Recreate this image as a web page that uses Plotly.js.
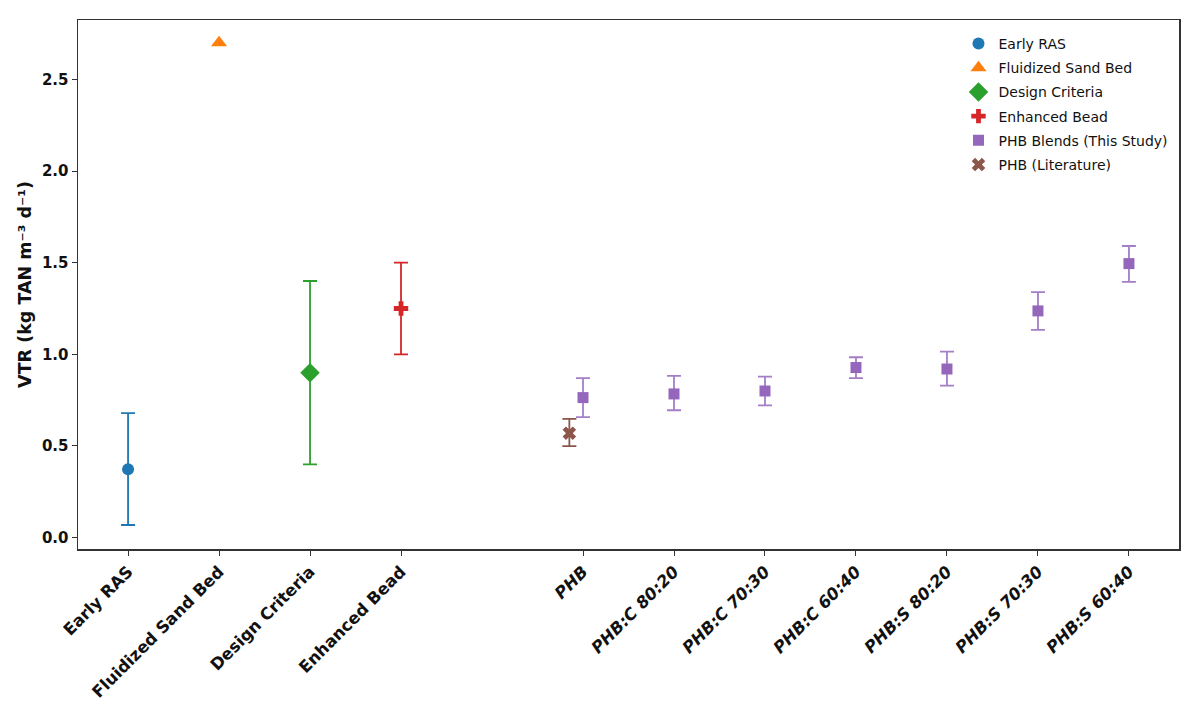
<!DOCTYPE html>
<html>
<head>
<meta charset="utf-8">
<script src="https://cdn.plot.ly/plotly-3.0.1.min.js"></script>
<style>
  html, body { margin: 0; padding: 0; background: #fff; }
  #plot { width: 1200px; height: 702px; }
</style>
</head>
<body>
<div id="plot"></div>
<script>
// tick labels and their positions on the x axis
var cats = ['Early RAS', 'Fluidized Sand Bed', 'Design Criteria', 'Enhanced Bead',
            'PHB', 'PHB:C 80:20', 'PHB:C 70:30', 'PHB:C 60:40',
            'PHB:S 80:20', 'PHB:S 70:30', 'PHB:S 60:40'];
var tickPos = [0, 1, 2, 3, 5, 6, 7, 8, 9, 10, 11];

// reference systems (one trace each)
var refNames = ['Early RAS', 'Fluidized Sand Bed', 'Design Criteria', 'Enhanced Bead'];
var refPos = [0, 1, 2, 3];
var refVals = [0.373, 2.70, 0.90, 1.25];
var refLow = [0.069, 2.70, 0.40, 1.00];
var refHigh = [0.679, 2.70, 1.40, 1.50];

// PHB blends (this study)
var blendPos = [5, 6, 7, 8, 9, 10, 11];
var blendVals = [0.764, 0.784, 0.800, 0.928, 0.920, 1.237, 1.495];
var blendLow = [0.657, 0.695, 0.722, 0.870, 0.829, 1.133, 1.395];
var blendHigh = [0.870, 0.882, 0.878, 0.984, 1.015, 1.339, 1.591];

// PHB (literature), drawn just left of the PHB tick
var litPos = [4.85];
var litVals = [0.570];
var litLow = [0.499];
var litHigh = [0.648];

var refColors = ['#1f77b4', '#ff7f0e', '#2ca02c', '#d62728'];
var refSymbols = ['circle', 'triangle-up', 'diamond', 'cross'];
var refSizes = [12, 14, 15, 12];

function errUp(v, h) { return v.map(function (x, i) { return h[i] - x; }); }
function errDown(v, l) { return v.map(function (x, i) { return x - l[i]; }); }

var traces = [];
for (var i = 0; i < refNames.length; i++) {
  traces.push({
    x: [refPos[i]], y: [refVals[i]],
    type: 'scatter', mode: 'markers', name: refNames[i], legendgroup: 'g' + i,
    marker: { color: refColors[i], symbol: refSymbols[i], size: refSizes[i] },
    error_y: {
      type: 'data', symmetric: false,
      array: [refHigh[i] - refVals[i]], arrayminus: [refVals[i] - refLow[i]],
      color: refColors[i], thickness: 1.8, width: 7,
      visible: refHigh[i] > refLow[i]
    }
  });
}
traces.push({
  x: blendPos, y: blendVals, type: 'scatter', mode: 'markers',
  name: 'PHB Blends (This Study)', legendgroup: 'g4',
  marker: { color: '#9467bd', symbol: 'square', size: 11 },
  error_y: { type: 'data', symmetric: false,
    array: errUp(blendVals, blendHigh), arrayminus: errDown(blendVals, blendLow),
    color: 'rgba(148,103,189,0.85)', thickness: 1.8, width: 7 }
});
traces.push({
  x: litPos, y: litVals, type: 'scatter', mode: 'markers',
  name: 'PHB (Literature)', legendgroup: 'g5',
  marker: { color: '#8c564b', symbol: 'x', size: 12 },
  error_y: { type: 'data', symmetric: false,
    array: errUp(litVals, litHigh), arrayminus: errDown(litVals, litLow),
    color: '#8c564b', thickness: 1.8, width: 7 }
});

var tickText = cats.map(function (c, i) {
  return i < 4 ? '<b>' + c + '</b>' : '<b><i>' + c + '</i></b>';
});

var layout = {
  width: 1200, height: 702,
  margin: { l: 78, r: 21, t: 20, b: 153 },
  paper_bgcolor: '#fff', plot_bgcolor: '#fff',
  font: { family: 'DejaVu Sans', color: '#111' },
  showlegend: true,
  legend: {
    x: 0.995, xanchor: 'right', y: 0.985, yanchor: 'top',
    traceorder: 'grouped', tracegroupgap: 3,
    bgcolor: 'rgba(255,255,255,0.8)', borderwidth: 0,
    font: { size: 14, family: 'DejaVu Sans', color: '#111' }
  },
  xaxis: {
    range: [-0.55, 11.55],
    tickmode: 'array', tickvals: tickPos, ticktext: tickText,
    tickangle: -45, tickfont: { size: 16.5, family: 'DejaVu Sans' },
    ticks: 'outside', ticklen: 5, tickcolor: '#333',
    showline: true, mirror: true, linecolor: '#333', linewidth: 1.5,
    showgrid: false, zeroline: false
  },
  yaxis: {
    range: [-0.062, 2.824],
    tickvals: [0, 0.5, 1.0, 1.5, 2.0, 2.5],
    ticktext: ['<b>0.0</b>', '<b>0.5</b>', '<b>1.0</b>', '<b>1.5</b>', '<b>2.0</b>', '<b>2.5</b>'],
    tickfont: { size: 15, family: 'DejaVu Sans' },
    ticks: 'outside', ticklen: 5, tickcolor: '#333',
    showline: true, mirror: true, linecolor: '#333', linewidth: 1.5,
    showgrid: false, zeroline: false,
    title: { text: '<b>VTR (kg TAN m\u207B\u00B3 d\u207B\u00B9)</b>',
             font: { size: 17.5, family: 'DejaVu Sans' }, standoff: 6 }
  }
};

Plotly.newPlot(document.getElementById('plot'), traces, layout, { staticPlot: true });
</script>
</body>
</html>
